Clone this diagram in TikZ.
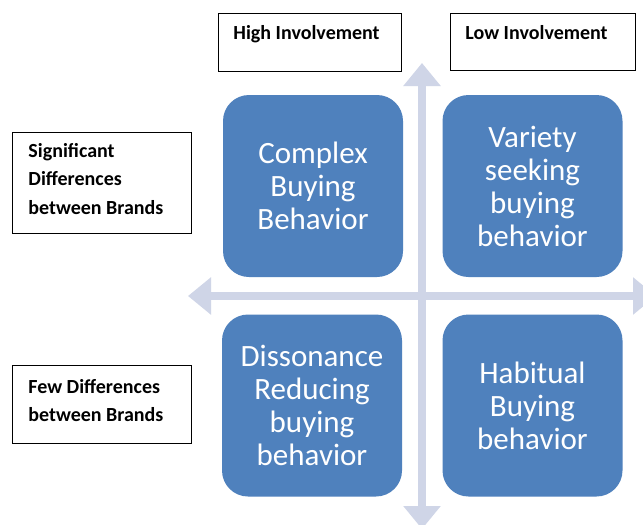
\documentclass[tikz,border=0pt]{standalone}
\usepackage{fontspec}
\setmainfont{Carlito}
\usetikzlibrary{arrows.meta}
\definecolor{boxblue}{RGB}{79,129,189}
\definecolor{axisgray}{RGB}{207,213,231}
% width, height, top space, left pad, text
\newcommand{\lbltext}[5]{\parbox[c][#2][t]{#1}{\vspace*{#3}\raggedright\leftskip=#4\strut #5}}
\begin{document}
\begin{tikzpicture}[x=1pt,y=-1pt,
  lbl/.style={draw=black, line width=0.9pt, inner sep=0pt, anchor=north west,
    font=\bfseries\fontsize{20}{28.5}\selectfont},
  quad/.style={fill=boxblue, rounded corners=26pt, minimum width=180pt,
    minimum height=182pt, text=white, align=center, inner sep=0pt,
    font=\fontsize{31}{33}\selectfont},
  axisline/.style={draw=axisgray, line width=8pt,
    {Triangle[length=23pt,width=36pt]}-{Triangle[length=23pt,width=36pt]}}]
\clip (0,0) rectangle (643,525);
\useasboundingbox (0,0) rectangle (643,525);
\fill[white] (0,0) rectangle (643,525);

% axes
\coordinate (hl) at (188,296);
\coordinate (hr) at (656,296);
\coordinate (vt) at (422,63);
\coordinate (vb) at (422,529);
\draw[axisline] (hl) -- (hr);
\draw[axisline] (vt) -- (vb);

% quadrants
\node[quad] (complex) at (313,186) {Complex\\Buying\\Behavior};
\node[quad] (variety) at (532.5,186) {Variety\\seeking\\buying\\behavior};
\node[quad] (dissonance) at (312,405.5) {Dissonance\\Reducing\\buying\\behavior};
\node[quad] (habitual) at (532.5,405.5) {Habitual\\Buying\\behavior};

% labels
\node[lbl] (high) at (218,13) {\lbltext{183pt}{58pt}{6pt}{15pt}{High Involvement}};
\node[lbl] (low) at (450,13) {\lbltext{185pt}{57pt}{6pt}{15pt}{Low Involvement}};
\node[lbl] (sig) at (12,132) {\lbltext{179pt}{101pt}{5pt}{16pt}{Significant\\Differences\\between Brands}};
\node[lbl] (few) at (12,365) {\lbltext{179pt}{78pt}{8pt}{16pt}{Few Differences\\between Brands}};
\end{tikzpicture}
\end{document}
